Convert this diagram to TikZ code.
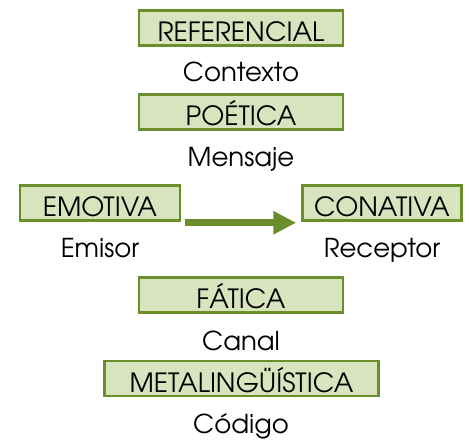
\documentclass[tikz,border=0pt]{standalone}
\usepackage{fontspec}
\setmainfont{TeX Gyre Adventor}
\usepackage{xcolor}
\usetikzlibrary{arrows.meta,positioning}
\definecolor{boxfill}{HTML}{D7E4BD}
\definecolor{boxline}{RGB}{106,142,42}
\tikzset{fn/.style={draw=boxline,line width=2.5pt,fill=boxfill,inner xsep=0pt,inner ysep=0pt,
    text height=31pt,text depth=4pt,font=\fontsize{26.5}{26.5}\selectfont},
  lbl/.style={anchor=base,inner sep=0pt,font=\fontsize{26}{26}\selectfont},
  flow/.style={-{Triangle[length=23pt,width=22pt]},line width=7pt,draw=boxline}}

\begin{document}
\begin{tikzpicture}[x=1pt,y=-1pt]
\useasboundingbox (0,0) rectangle (470,443);
\node[fn,minimum width=204pt] (ref) at (241,28) {REFERENCIAL};
\node[lbl] (contexto) at (241,82) {Contexto};
\node[fn,minimum width=204pt] (poe) at (241,112) {POÉTICA};
\node[lbl] (mensaje) at (241,167) {Mensaje};
\node[fn,minimum width=160pt] (emo) at (100,203) {EMOTIVA};
\node[lbl] (emisor) at (100,257) {Emisor};
\node[fn,minimum width=159pt] (con) at (382,203) {CONATIVA};
\node[lbl] (receptor) at (382,257) {Receptor};
\node[fn,minimum width=204pt] (fat) at (241,295) {FÁTICA};
\node[lbl] (canal) at (241,350) {Canal};
\node[fn,minimum width=274pt] (meta) at (241.5,378.5) {METALINGÜÍSTICA};
\node[lbl] (codigo) at (241,433) {Código};
\draw[flow,shorten <=4pt,shorten >=5pt] ([yshift=-1pt]emo.south east) -- ([yshift=-1pt]con.south west);
\end{tikzpicture}
\end{document}
